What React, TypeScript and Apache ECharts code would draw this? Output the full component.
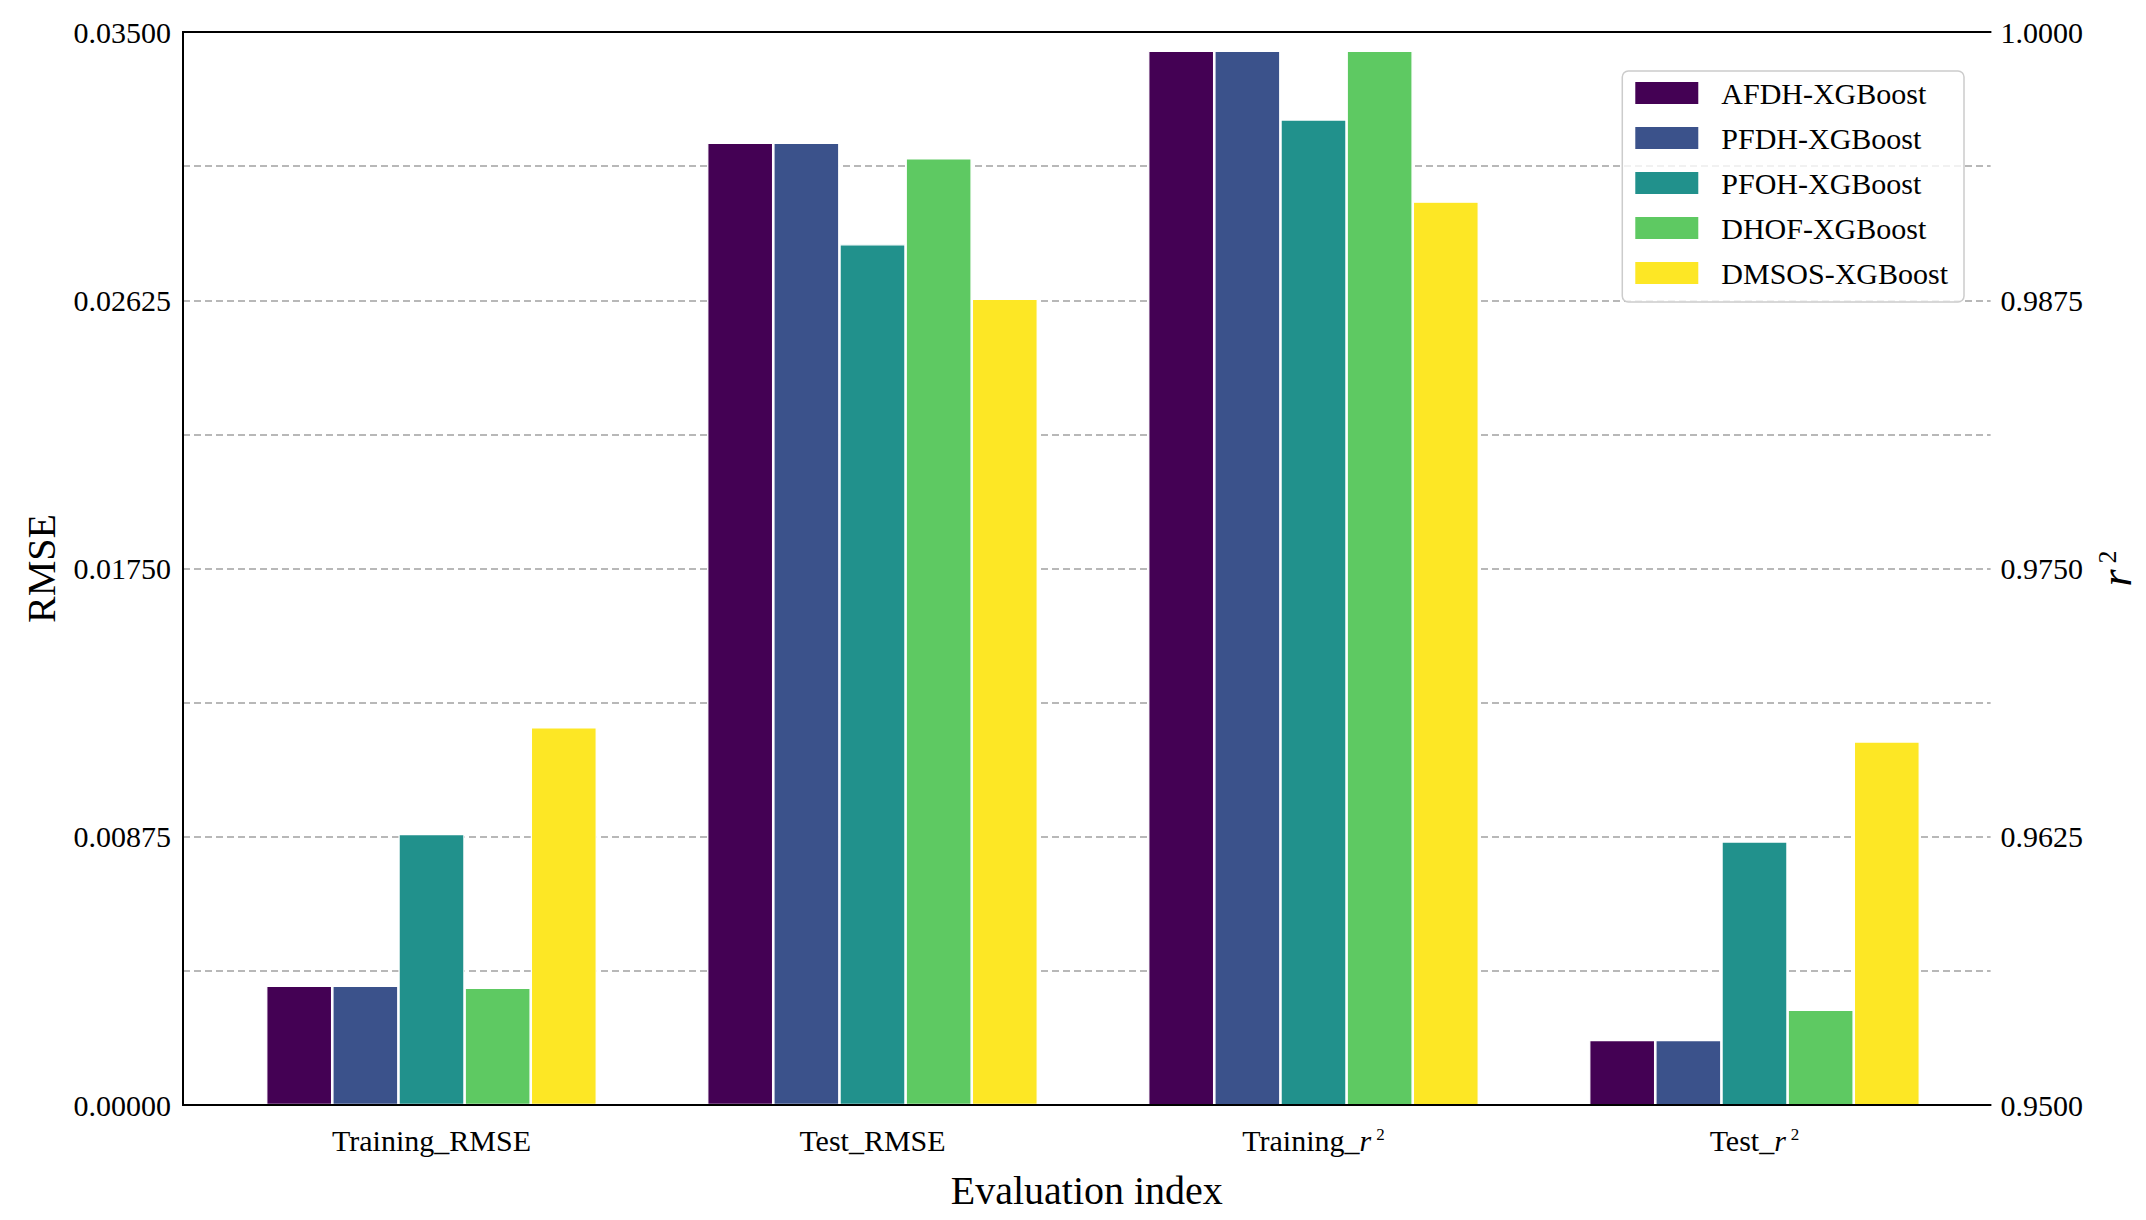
import React, { useEffect, useRef } from "react";
import * as echarts from "echarts";

const FONT = "'Liberation Serif', 'Times New Roman', serif";

const rmseCategories = ["Training_RMSE", "Test_RMSE"];
const r2Categories = ["Training_r²", "Test_r²"];
const models = ["AFDH-XGBoost", "PFDH-XGBoost", "PFOH-XGBoost", "DHOF-XGBoost", "DMSOS-XGBoost"];
const colors = ["#440154", "#3b528b", "#21918c", "#5ec962", "#fde725"];

const trainingRMSE = [0.00389, 0.00389, 0.00884, 0.00383, 0.01232];
const testRMSE = [0.03139, 0.03139, 0.02808, 0.03088, 0.0263];
const trainingR2 = [0.99913, 0.99913, 0.99593, 0.99913, 0.9921];
const testR2 = [0.95303, 0.95303, 0.96228, 0.95444, 0.96694];

const leftTickLabels = ["0.00000", "0.00875", "0.01750", "0.02625", "0.03500"];
const rightTickLabels = ["0.9500", "0.9625", "0.9750", "0.9875", "1.0000"];
const LEFT_MIN = 0;
const LEFT_MAX = 0.035;
const LEFT_STEP = 0.004375;
const RIGHT_MIN = 0.95;
const RIGHT_MAX = 1.0;
const RIGHT_STEP = 0.00625;

const richLabel = (s: string) =>
  s.includes("r²") ? s.replace("r²", "{i|r}{s|2}") : s;

export default function App() {
  const ref = useRef<HTMLDivElement>(null);
  useEffect(() => {
    document.body.style.margin = "0";
    const chart = echarts.init(ref.current!, undefined, { renderer: "svg" });
    const black = "#000000";
    const labelRich = {
      i: { fontStyle: "italic", fontFamily: FONT, fontSize: 30, color: black },
      s: { fontFamily: FONT, fontSize: 17, color: black, padding: [0, 0, 12, 5] },
    };
    const outer = { left: 183, top: 32, width: 1820, height: 1073 };
    const seriesA = models.map((m, k) => ({
      name: m,
      type: "bar",
      xAxisIndex: 2,
      yAxisIndex: 2,
      data: [trainingRMSE[k], testRMSE[k]],
      barWidth: "15%",
      barGap: "0%",
      clip: true,
      itemStyle: { color: colors[k], borderColor: "#ffffff", borderWidth: 1.3 },
    }));
    const seriesB = models.map((m, k) => ({
      name: m,
      type: "bar",
      xAxisIndex: 3,
      yAxisIndex: 3,
      data: [trainingR2[k], testR2[k]],
      barWidth: "15%",
      barGap: "0%",
      clip: true,
      itemStyle: { color: colors[k], borderColor: "#ffffff", borderWidth: 1.3 },
    }));
    chart.setOption({
      animation: false,
      backgroundColor: "#ffffff",
      textStyle: { fontFamily: FONT },
      grid: [
        { ...outer, containLabel: false },
        { left: 211, top: 32, width: 882, height: 1073 },
        { left: 1093, top: 32, width: 882, height: 1073 },
      ],
      legend: {
        data: models,
        orient: "vertical",
        right: 182,
        top: 71,
        itemWidth: 65,
        itemHeight: 24,
        itemGap: 15,
        icon: "rect",
        backgroundColor: "rgba(255,255,255,0.8)",
        borderColor: "#cccccc",
        borderWidth: 1.5,
        borderRadius: 6,
        padding: [7, 16, 14, 11],
        textStyle: { fontFamily: FONT, fontSize: 30, color: black, lineHeight: 30, padding: [0, 0, 0, 17] },
        z: 10,
      },
      xAxis: [
        {
          gridIndex: 0,
          type: "value",
          min: 0,
          max: 1,
          position: "bottom",
          z: 5,
          axisLine: { show: true, lineStyle: { color: black, width: 2 } },
          axisTick: { show: false },
          axisLabel: { show: false },
          splitLine: { show: false },
          name: "Evaluation index",
          nameLocation: "middle",
          nameGap: 65,
          nameTextStyle: { fontFamily: FONT, fontSize: 40, color: black },
        },
        {
          gridIndex: 0,
          type: "value",
          min: 0,
          max: 1,
          position: "top",
          z: 5,
          axisLine: { show: true, lineStyle: { color: black, width: 2 } },
          axisTick: { show: false },
          axisLabel: { show: false },
          splitLine: { show: false },
        },
        {
          gridIndex: 1,
          type: "category",
          data: rmseCategories,
          axisLine: { show: false },
          axisTick: { show: false },
          axisLabel: {
            margin: 20,
            fontFamily: FONT,
            fontSize: 30,
            color: black,
            formatter: (v: string) => richLabel(v),
            rich: labelRich,
          },
        },
        {
          gridIndex: 2,
          type: "category",
          data: r2Categories,
          axisLine: { show: false },
          axisTick: { show: false },
          axisLabel: {
            margin: 20,
            fontFamily: FONT,
            fontSize: 30,
            color: black,
            formatter: (v: string) => richLabel(v),
            rich: labelRich,
          },
        },
      ],
      yAxis: [
        {
          gridIndex: 0,
          type: "value",
          position: "left",
          min: LEFT_MIN,
          max: LEFT_MAX,
          interval: LEFT_STEP,
          axisLine: { show: true, lineStyle: { color: black, width: 2 } },
          axisTick: { show: false },
          axisLabel: {
            margin: 12,
            fontFamily: FONT,
            fontSize: 30,
            color: black,
            formatter: (v: number) => {
              const i = Math.round((v - LEFT_MIN) / LEFT_STEP);
              return i % 2 === 0 ? leftTickLabels[i / 2] ?? "" : "";
            },
          },
          splitLine: { show: true, lineStyle: { color: "#b8b8b8", width: 2, type: [7, 4] } },
          name: "RMSE",
          nameLocation: "middle",
          nameRotate: 90,
          nameGap: 122,
          nameTextStyle: { fontFamily: FONT, fontSize: 40, color: black },
        },
        {
          gridIndex: 0,
          type: "value",
          position: "right",
          min: RIGHT_MIN,
          max: RIGHT_MAX,
          interval: RIGHT_STEP,
          axisLine: { show: true, lineStyle: { color: black, width: 2 } },
          axisTick: { show: false },
          axisLabel: {
            margin: 10,
            fontFamily: FONT,
            fontSize: 30,
            color: black,
            formatter: (v: number) => {
              const i = Math.round((v - RIGHT_MIN) / RIGHT_STEP);
              return i % 2 === 0 ? rightTickLabels[i / 2] ?? "" : "";
            },
          },
          splitLine: { show: false },
          name: "{i|r}{s|2}",
          nameLocation: "middle",
          nameRotate: 90,
          nameGap: 98,
          nameTextStyle: {
            fontFamily: FONT,
            fontSize: 44,
            color: black,
            rich: {
              i: { fontStyle: "italic", fontFamily: FONT, fontSize: 44, color: black },
              s: { fontFamily: FONT, fontSize: 26, color: black, padding: [0, 0, 18, 6] },
            },
          },
        },
        { gridIndex: 1, type: "value", min: LEFT_MIN, max: LEFT_MAX, show: false },
        { gridIndex: 2, type: "value", min: RIGHT_MIN, max: RIGHT_MAX, show: false },
      ],
      series: [...seriesA, ...seriesB],
    });
    return () => chart.dispose();
  }, []);
  return <div ref={ref} style={{ width: 2146, height: 1220 }} />;
}
